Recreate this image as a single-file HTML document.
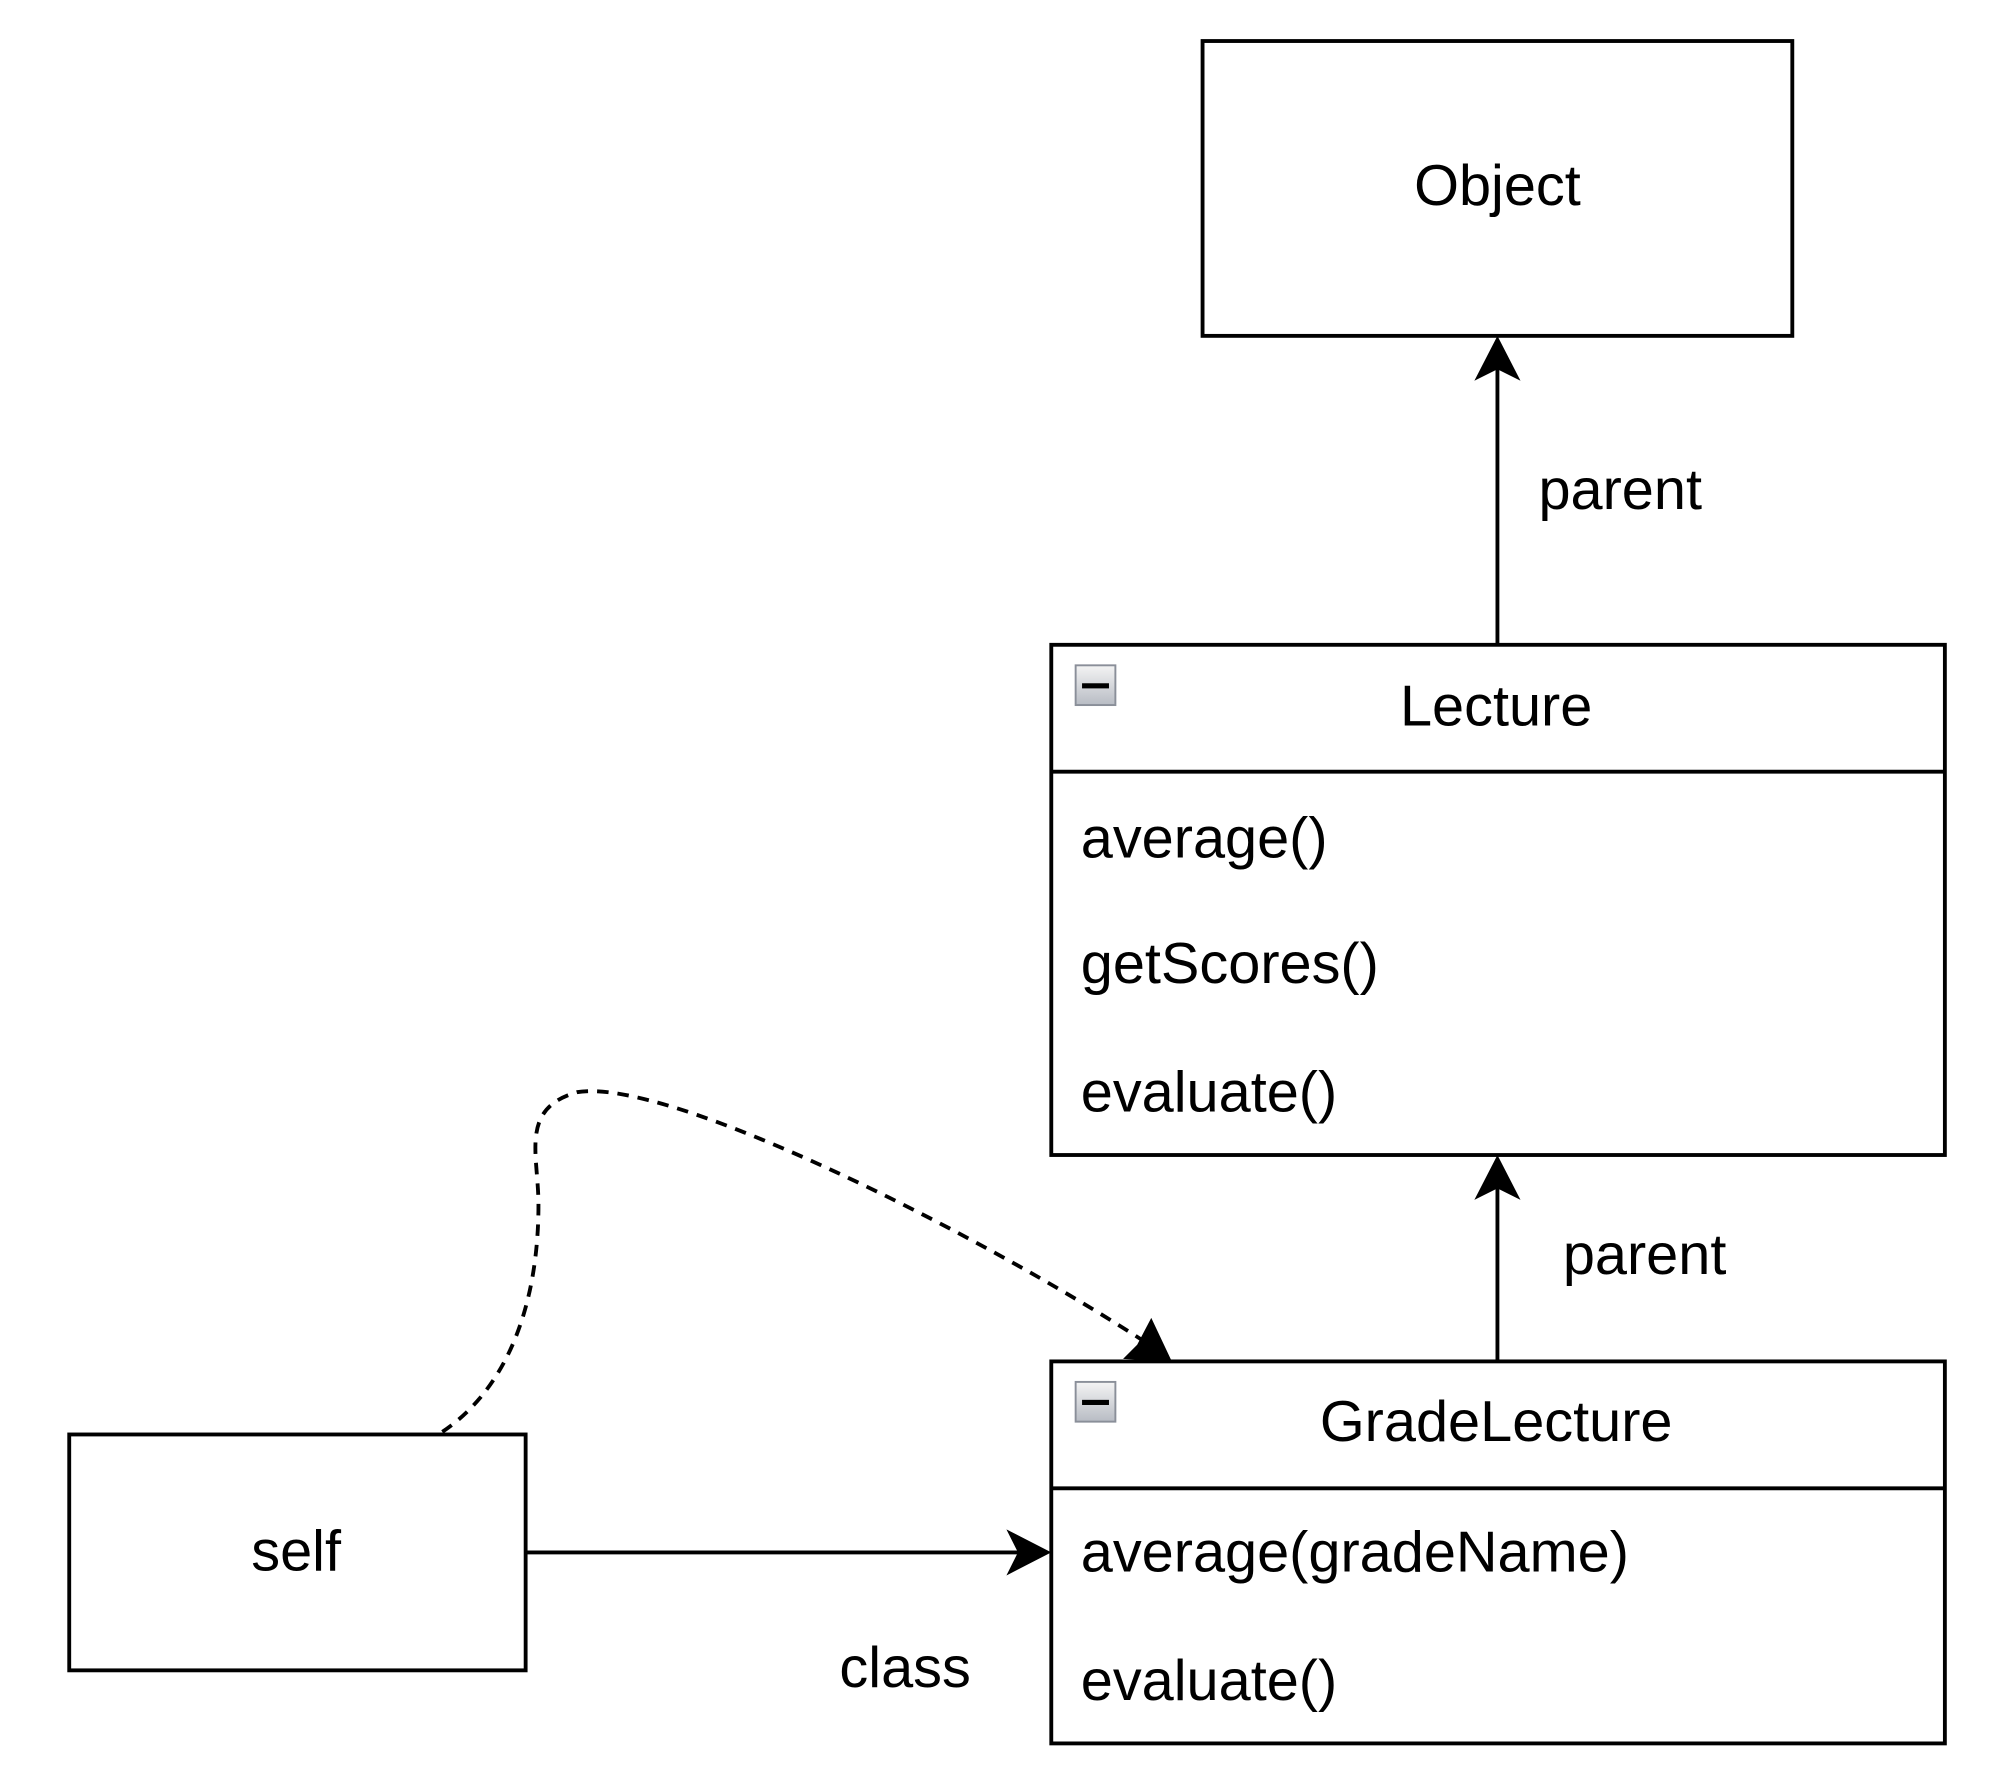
<!DOCTYPE html>
<html><head><meta charset="utf-8"><style>
html,body{margin:0;padding:0;background:#fff;}
svg{display:block;}
text{font-family:"Liberation Sans",Arial,sans-serif;font-size:45px;fill:#000;}
</style></head><body>
<svg width="2000" height="1787" viewBox="0 0 1560 1394" preserveAspectRatio="none" xmlns="http://www.w3.org/2000/svg">
<defs>
<linearGradient id="g" x1="0" y1="0" x2="0" y2="1"><stop offset="0" stop-color="#f4f4f4"/><stop offset="1" stop-color="#b8bcc4"/></linearGradient>
</defs>
<g fill="#fff" stroke="#000" stroke-width="3">
<rect x="938" y="32" width="460" height="230"/>
<rect x="820" y="503" width="697" height="398"/>
<line x1="820" y1="602" x2="1517" y2="602"/>
<rect x="820" y="1062" width="697" height="298"/>
<line x1="820" y1="1161" x2="1517" y2="1161"/>
<rect x="54" y="1119" width="356" height="184"/>
</g>
<g stroke="#000" stroke-width="3" fill="none">
<line x1="1168" y1="503" x2="1168" y2="272"/>
<line x1="1168" y1="1062" x2="1168" y2="912"/>
<line x1="410" y1="1211" x2="808" y2="1211"/>
<path d="M345,1117 C400,1080 420,1010 420,940 C420,900 405,865 450,852 C520,840 760,960 895,1048" stroke-dasharray="9,7"/>
</g>
<g fill="#000">
<path d="M1168,262 L1186,297 L1168,288 L1150,297 Z"/>
<path d="M1168,901 L1186,936 L1168,927 L1150,936 Z"/>
<path d="M820,1211 L785,1229 L794,1211 L785,1193 Z"/>
<path d="M914,1062 L876,1060 L887,1049 L898,1028 Z"/>
</g>
<g stroke="#8a8f99" stroke-width="1.5" fill="url(#g)">
<rect x="839" y="519" width="31" height="31"/>
<rect x="839" y="1078" width="31" height="31"/>
</g>
<g fill="#000"><rect x="844" y="533" width="21" height="4"/><rect x="844" y="1092" width="21" height="4"/></g>
<text x="1168" y="160" text-anchor="middle">Object</text>
<text x="1200" y="397">parent</text>
<text x="1167" y="566" text-anchor="middle">Lecture</text>
<text x="843" y="669">average()</text>
<text x="843" y="767">getScores()</text>
<text x="843" y="867">evaluate()</text>
<text x="1219" y="994">parent</text>
<text x="1167" y="1124" text-anchor="middle">GradeLecture</text>
<text x="843" y="1226">average(gradeName)</text>
<text x="843" y="1326">evaluate()</text>
<text x="231" y="1225" text-anchor="middle">self</text>
<text x="706" y="1316" text-anchor="middle">class</text>
</svg>
</body></html>
